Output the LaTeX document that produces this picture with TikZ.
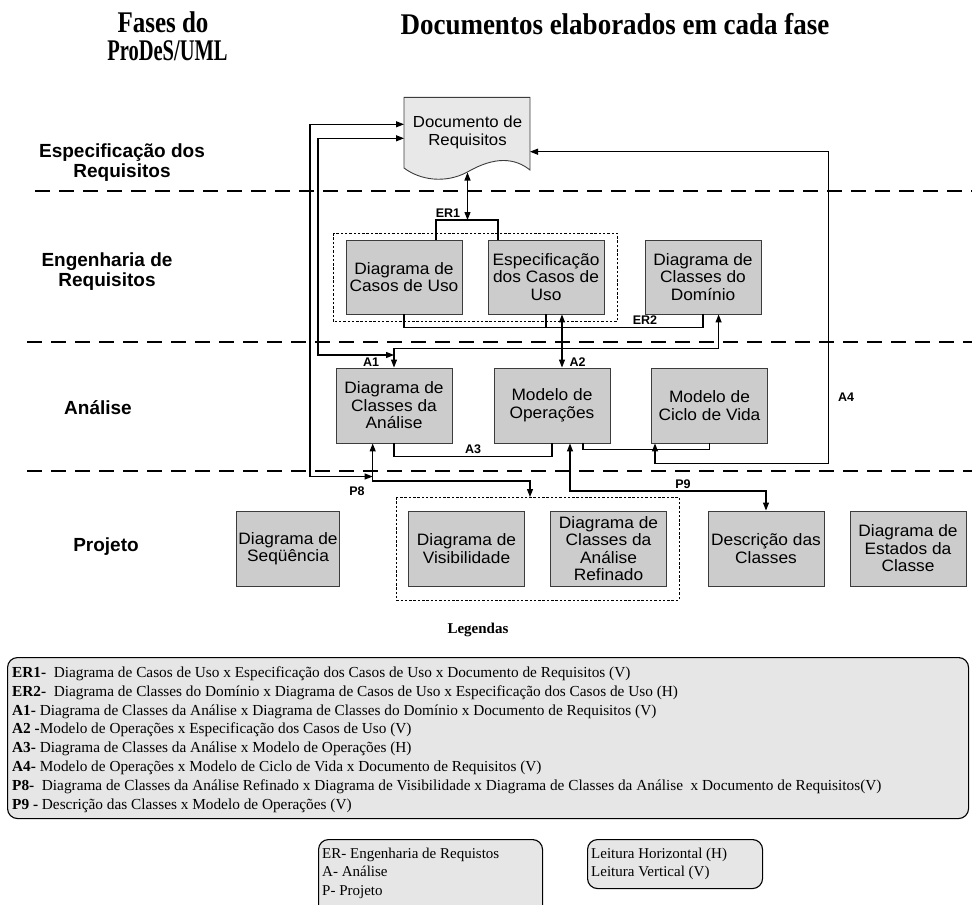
\documentclass[tikz,border=0pt]{standalone}
\usepackage{fontspec}
\usepackage{graphicx}
\setmainfont{Liberation Serif}
\setsansfont{Liberation Sans}
\newfontfamily\boxfont{Liberation Sans}[FakeStretch=1.05]
\newfontfamily\headfont{Liberation Serif}
\usetikzlibrary{arrows.meta,calc}
\definecolor{boxgray}{RGB}{204,204,204}
\definecolor{docgray}{RGB}{232,232,232}
\definecolor{leggray}{RGB}{230,230,230}
\definecolor{edge}{RGB}{60,60,60}
\tikzset{
  docbox/.style={draw=edge, line width=0.9pt, fill=boxgray, minimum width=116pt, minimum height=75pt,
    align=center, inner sep=1pt, font=\boxfont\fontsize{16.5}{17.5}\selectfont},
  phaselbl/.style={align=center, font=\sffamily\bfseries\fontsize{19}{20}\selectfont},
  link/.style={line width=1.1pt},
  tag/.style={font=\sffamily\bfseries\fontsize{12.5}{14}\selectfont, inner sep=0pt},
  phaseline/.style={line width=2pt, dash pattern=on 15pt off 9pt},
  grouprect/.style={line width=0.8pt, dash pattern=on 2.5pt off 1.8pt},
  legbox/.style={draw=black, line width=1.1pt, fill=leggray, rounded corners=10pt},
  legtext/.style={font=\fontsize{15.3}{18.8}\selectfont, align=left, inner sep=0pt, anchor=north west},
  headline/.style={font=\headfont\bfseries\fontsize{25}{24}\selectfont, inner sep=0pt}
}
\begin{document}
\begin{tikzpicture}[x=1pt,y=-1pt,>={Triangle[length=8pt,width=6pt]}]
\clip (0,0) rectangle (972,905);

% headings
\node[headline] (hA1) at (163,22) {\scalebox{1}[1.2]{Fases do}};
\node[headline] (hA2) at (167.5,51) {\scalebox{0.82}[1.2]{ProDeS/UML}};
\node[headline] (hB) at (615,24) {\scalebox{1.08}[1.2]{Documentos elaborados em cada fase}};

% phase separators
\draw[phaseline] (35,191) -- (972,191);
\draw[phaseline] (27,342) -- (972,342);
\draw[phaseline] (27,470.5) -- (972,470.5);

% phase names
\node[phaselbl] (ph1) at (122,163) {Especificação dos\\Requisitos};
\node[phaselbl] (ph2) at (107,272) {Engenharia de\\Requisitos};
\node[phaselbl] (ph3) at (98,408) {Análise};
\node[phaselbl] (ph4) at (106,547) {Projeto};

% requirements document
\draw[draw=edge, line width=0.9pt, fill=docgray]
  (404,97.3) -- (530,97.3) -- (530,170)
  .. controls (515,158) and (495,156) .. (467.5,172)
  .. controls (445,184) and (420,180) .. (404,168) -- cycle;
\node[align=center, font=\boxfont\fontsize{16}{18}\selectfont] (doc) at (467.5,132) {Documento de\\Requisitos};
\coordinate (docL1) at (404,124.3);
\coordinate (docL2) at (404,138.3);
\coordinate (docR) at (530,151.7);
\coordinate (docB) at (467.5,172.5);

% requirements engineering
\draw[grouprect] (333,233) rectangle (617,321.7);
\node[docbox, minimum height=74pt] (cu) at (404,277) {Diagrama de\\Casos de Uso};
\node[docbox, minimum height=74pt] (ecu) at (546,277) {Especificação\\dos Casos de\\Uso};
\node[docbox, minimum height=74pt] (dcd) at (703,277) {Diagrama de\\Classes do\\Domínio};

% analysis
\node[docbox] (dca) at (394,405.5) {Diagrama de\\Classes da\\Análise};
\node[docbox] (mo) at (552,405.5) {Modelo de\\Operações};
\node[docbox] (mcv) at (709.5,405.5) {Modelo de\\Ciclo de Vida};

% design
\draw[grouprect] (396,497) rectangle (679,600);
\node[docbox, minimum width=103pt] (seq) at (288,548.5) {Diagrama de\\Seqüência};
\node[docbox] (vis) at (466.5,548.5) {Diagrama de\\Visibilidade};
\node[docbox] (ref) at (608.5,548.5) {Diagrama de\\Classes da\\Análise\\Refinado};
\node[docbox] (dc) at (766,548.5) {Descrição das\\Classes};
\node[docbox] (est) at (908,548.5) {Diagrama de\\Estados da\\Classe};
\coordinate (grpTop) at (530,497);

% ER1
\coordinate (j1) at (467.5,220);
\draw[link] ($(cu.north)+(32,0)$) |- (j1) -| ($(ecu.north)+(-48,0)$);
\draw[link,<->] (docB) -- (j1);
\node[tag] (tER1) at (448,213) {ER1};

% ER2
\coordinate (j2) at (546,327.7);
\draw[link] (cu.south) |- (j2) -| (dcd.south);
\draw[link] (ecu.south) -- (j2);
\node[tag] (tER2) at (645,320.5) {ER2};

% A1
\coordinate (a1) at (394,348.3);
\draw[link,<->] ($(dcd.south)+(15.6,0)$) |- (a1) -- (dca.north);
\coordinate (li) at (318,138.3);
\coordinate (a1in) at (394,355);
\draw[link,<->] (docL2) -- (li) |- (a1in);
\node[tag] (tA1) at (371,362) {A1};

% A2
\draw[link,<->] ($(ecu.south)+(16,0)$) -- ($(mo.north)+(10,0)$);
\node[tag] (tA2) at (577.5,362) {A2};

% A3
\coordinate (a3) at (470,456.7);
\draw[link] (dca.south) |- (a3) -| (mo.south);
\node[tag] (tA3) at (473,449) {A3};

% link between operations and life cycle
\coordinate (mc) at (650,449.3);
\draw[link] ($(mo.south)+(31,0)$) |- (mc) -| (mcv.south);

% A4
\coordinate (a4) at (828.6,463.3);
\draw[link,<->] ($(mcv.south)+(-54.5,0)$) |- (a4) |- (docR);
\node[tag] (tA4) at (846,397) {A4};

% P8
\coordinate (lo) at (310,124.3);
\coordinate (p8j) at (372.7,476.5);
\draw[link,<->] (docL1) -- (lo) |- (p8j);
\coordinate (p8c) at (530,481);
\draw[link,<->] ($(dca.south)+(-21.3,0)$) |- (p8c) -- (grpTop);
\node[tag] (tP8) at (357,491) {P8};

% P9
\coordinate (p9c) at (700,491);
\draw[link,<->] ($(mo.south)+(18,0)$) |- (p9c) -| (dc.north);
\node[tag] (tP9) at (683,484) {P9};

% legend
\node[font=\bfseries\fontsize{15}{18}\selectfont] (legt) at (478,630) {Legendas};
\node[legbox, minimum width=961pt, minimum height=161pt, anchor=north west] (leg) at (7,657) {};
\node[legtext] (legtx) at (12,666.5) {%
\textbf{ER1-}\ \ Diagrama de Casos de Uso x Especificação dos Casos de Uso x Documento de Requisitos (V)\\
\textbf{ER2-}\ \ Diagrama de Classes do Domínio x Diagrama de Casos de Uso x Especificação dos Casos de Uso (H)\\
\textbf{A1-} Diagrama de Classes da Análise x Diagrama de Classes do Domínio x Documento de Requisitos (V)\\
\textbf{A2 -}Modelo de Operações x Especificação dos Casos de Uso (V)\\
\textbf{A3-} Diagrama de Classes da Análise x Modelo de Operações (H)\\
\textbf{A4-} Modelo de Operações x Modelo de Ciclo de Vida x Documento de Requisitos (V)\\
\textbf{P8-}\ \ Diagrama de Classes da Análise Refinado x Diagrama de Visibilidade x Diagrama de Classes da Análise\ \ x Documento de Requisitos(V)\\
\textbf{P9 -} Descrição das Classes x Modelo de Operações (V)};

\node[legbox, minimum width=224pt, minimum height=91pt, anchor=north west] (abbr) at (318,839) {};
\node[legtext, font=\fontsize{15}{18.5}\selectfont] (abbrtx) at (322,847.5) {ER- Engenharia de Requistos\\A- Análise\\P- Projeto};
\node[legbox, minimum width=175pt, minimum height=49pt, anchor=north west] (lei) at (587,839) {};
\node[legtext, font=\fontsize{15}{18.5}\selectfont] (leitx) at (591,847.5) {Leitura Horizontal (H)\\Leitura Vertical (V)};
\end{tikzpicture}
\end{document}
